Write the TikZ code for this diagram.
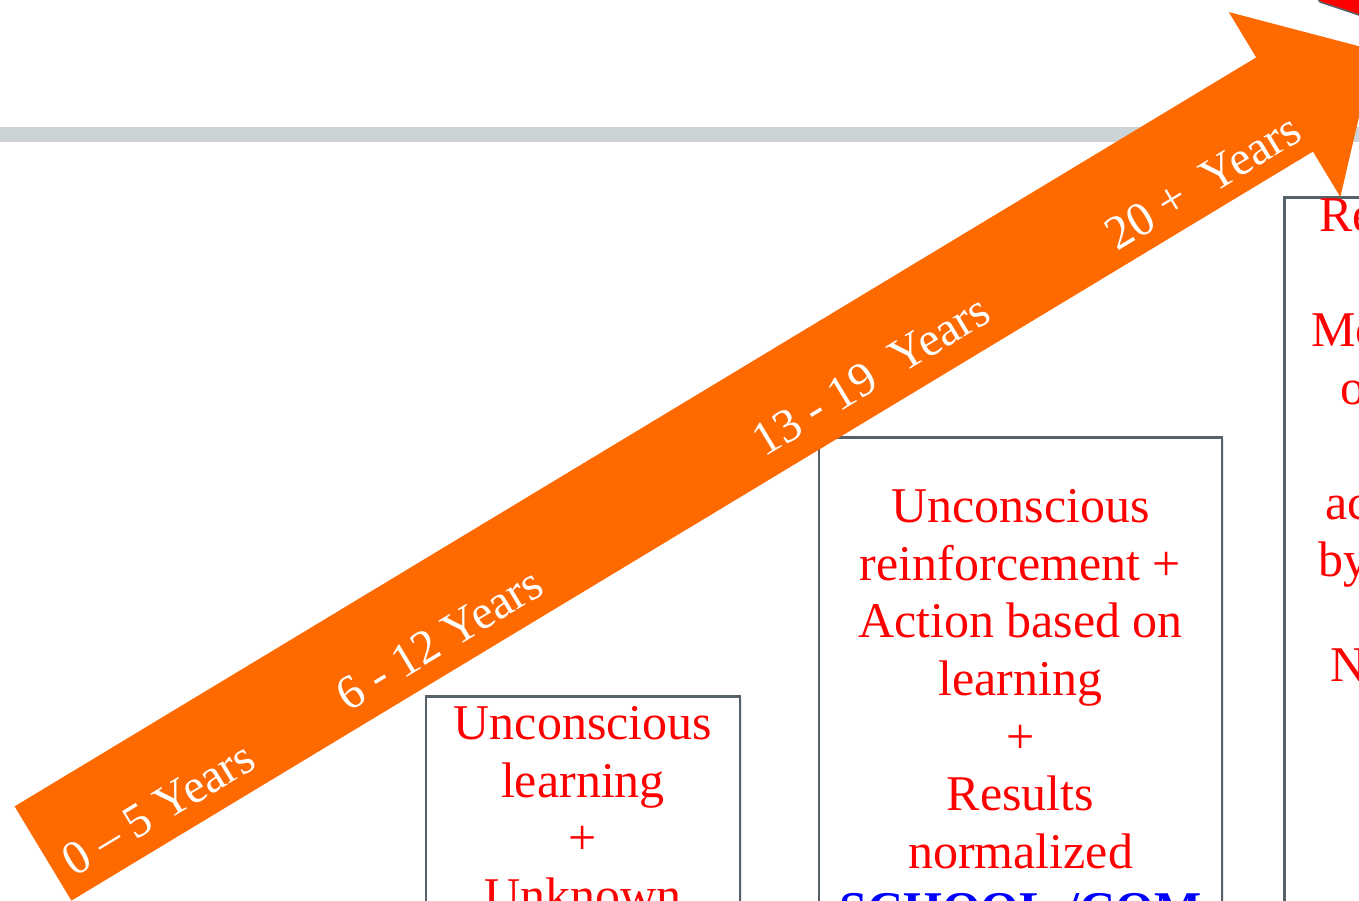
\documentclass[tikz,border=0pt]{standalone}
\usepackage{fontspec}
\setmainfont{Liberation Serif}
\usetikzlibrary{positioning}
\usetikzlibrary{shadows}

\definecolor{arroworange}{HTML}{FF6A00}
\definecolor{boxgray}{HTML}{56626A}
\definecolor{bargray}{HTML}{CBD3D6}
\definecolor{textred}{HTML}{FF0000}
\definecolor{textblue}{HTML}{0000FF}

\begin{document}
\begin{tikzpicture}[x=1pt, y=1pt,
  stagebox/.style={draw=boxgray, line width=2.6pt, fill=white, inner sep=0pt,
    drop shadow={opacity=0.18, shadow xshift=1.5pt, shadow yshift=-1.5pt}},
  stagetext/.style={text=textred, align=center, inner sep=0pt, font=\fontsize{50}{57.7}\selectfont},
  agelabel/.style={text=white, inner sep=0pt, rotate=31.1, font=\fontsize{48}{50}\selectfont}]
  \useasboundingbox (0,0) rectangle (1359,901);
  \clip (0,0) rectangle (1359,901);

  % grey rule and the red shapes behind the arrow
  \fill[bargray] (0,759) rectangle (1359,774);
  \filldraw[fill=red, draw=boxgray, line width=1.5pt] (1316,905) -- (1320,899) -- (1365,884) -- (1365,905) -- cycle;
  \filldraw[fill=red, draw=boxgray, line width=1.5pt] (1345,809) -- (1365,833) -- (1365,815) -- cycle;

  % stage boxes
  \node[stagebox, minimum width=314pt, minimum height=260pt, anchor=north] (box1) at (583,206) {};
  \node[stagetext, below=11pt of box1.north] (text1) {Unconscious\\learning\\+\\Unknown};

  \node[stagebox, minimum width=403pt, minimum height=520pt, anchor=north] (box2) at (1020.5,465) {};
  \node[stagetext, below=53pt of box2.north] (text2) {Unconscious\\reinforcement +\\Action based on\\learning\\+\\Results\\normalized\\\textcolor{textblue}{\bfseries SCHOOL /COM}};

  \node[stagebox, minimum width=400pt, minimum height=800pt, anchor=north west] (box3) at (1283,705) {};
  \node[stagetext, anchor=base west] (re) at (1319,669) {Re};
  \node[stagetext, anchor=base west] (mo) at (1311,554) {Mo};
  \node[stagetext, anchor=base west] (o) at (1340,496) {o};
  \node[stagetext, anchor=base west] (ac) at (1325,381) {ac};
  \node[stagetext, anchor=base west] (by) at (1318,324) {by};
  \node[stagetext, anchor=base west] (n) at (1330,219) {N};

  % the age arrow
  \begin{scope}[shift={(43,47.5)}, rotate=31.1]
    \fill[arroworange] (0,-55) -- (1450,-55) -- (1450,-108) -- (1555,0) -- (1450,108) -- (1450,55) -- (0,55) -- cycle;
    \node[agelabel] (age1) at (122,-21) {0 – 5 Years};
    \node[agelabel] (age2) at (450,-21) {6 - 12 Years};
    \node[agelabel] (age3) at (956,-18) {13 - 19\ \ Years};
    \node[agelabel] (age4) at (1340,-24) {20 +\ \ Years};
  \end{scope}
\end{tikzpicture}
\end{document}
